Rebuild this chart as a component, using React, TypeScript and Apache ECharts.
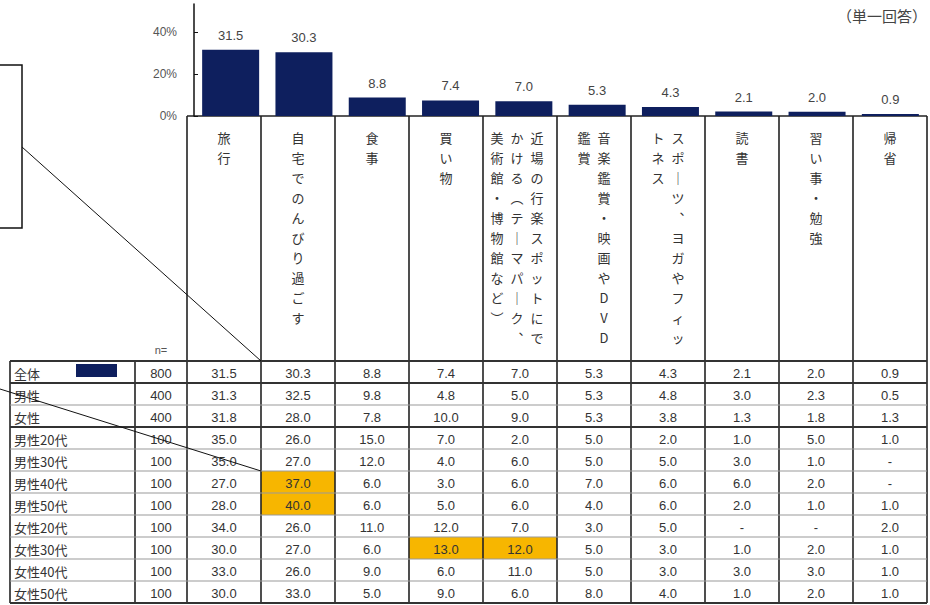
import React, { useEffect, useRef } from "react";
import * as echarts from "echarts";

const categories = [
  "旅行",
  "自宅でのんびり過ごす",
  "食事",
  "買い物",
  "近場の行楽スポットにでかける（テーマパーク、美術館・博物館など）",
  "音楽鑑賞・映画やDVD鑑賞",
  "スポーツ、ヨガやフィットネス",
  "読書",
  "習い事・勉強",
  "帰省",
];
const overall = [31.5, 30.3, 8.8, 7.4, 7.0, 5.3, 4.3, 2.1, 2.0, 0.9];
const yTicks = [0, 20, 40];
const rowLabels = [
  "全体", "男性", "女性", "男性20代", "男性30代", "男性40代",
  "男性50代", "女性20代", "女性30代", "女性40代", "女性50代",
];
const nValues = [800, 400, 400, 100, 100, 100, 100, 100, 100, 100, 100];
const rowAll = [31.5, 30.3, 8.8, 7.4, 7.0, 5.3, 4.3, 2.1, 2.0, 0.9];
const rowMale = [31.3, 32.5, 9.8, 4.8, 5.0, 5.3, 4.8, 3.0, 2.3, 0.5];
const rowFemale = [31.8, 28.0, 7.8, 10.0, 9.0, 5.3, 3.8, 1.3, 1.8, 1.3];
const rowM20 = [35.0, 26.0, 15.0, 7.0, 2.0, 5.0, 2.0, 1.0, 5.0, 1.0];
const rowM30 = [35.0, 27.0, 12.0, 4.0, 6.0, 5.0, 5.0, 3.0, 1.0, null];
const rowM40 = [27.0, 37.0, 6.0, 3.0, 6.0, 7.0, 6.0, 6.0, 2.0, null];
const rowM50 = [28.0, 40.0, 6.0, 5.0, 6.0, 4.0, 6.0, 2.0, 1.0, 1.0];
const rowF20 = [34.0, 26.0, 11.0, 12.0, 7.0, 3.0, 5.0, null, null, 2.0];
const rowF30 = [30.0, 27.0, 6.0, 13.0, 12.0, 5.0, 3.0, 1.0, 2.0, 1.0];
const rowF40 = [33.0, 26.0, 9.0, 6.0, 11.0, 5.0, 3.0, 3.0, 3.0, 1.0];
const rowF50 = [30.0, 33.0, 5.0, 9.0, 6.0, 8.0, 4.0, 1.0, 2.0, 1.0];
const tableRows: (number | null)[][] = [
  rowAll, rowMale, rowFemale, rowM20, rowM30, rowM40, rowM50, rowF20, rowF30, rowF40, rowF50,
];
// [row, column] of highlighted cells
const highlights = [[5, 1], [6, 1], [8, 3], [8, 4]];
const unitLabel = "（単一回答）";
const nLabel = "n=";

const W = 930;
const H = 605;
const NUM_FONT = "'Liberation Sans', 'Noto Sans CJK JP', sans-serif";
const JP_FONT = "'Noto Sans CJK JP', 'Liberation Sans', sans-serif";
const NAVY = "#0E1F5E";
const HILITE = "#F7B600";
const TEXT = "#333333";

const colStart = 187;
const colW = 74;
const tableLeft = 10;
const nLeft = 135;
const headTop = 116;
const bodyTop = 361;
const rowH = 22;
const charStep = 20;
const charsPerLine = 11;

const vMap: Record<string, string> = { "ー": "｜", "（": "︵", "）": "︶", "、": "︑" };

function splitVertical(s: string): string[] {
  const chars = Array.from(s);
  const lines: string[] = [];
  for (let i = 0; i < chars.length; i += charsPerLine) {
    lines.push(chars.slice(i, i + charsPerLine).map((c) => vMap[c] || c).join("\n"));
  }
  return lines;
}

function buildGraphic() {
  const g: any[] = [];
  const tableRight = colStart + colW * categories.length;
  const bottom = bodyTop + rowH * rowLabels.length;

  highlights.forEach(([r, c]) => {
    g.push({
      type: "rect",
      shape: { x: colStart + c * colW, y: bodyTop + r * rowH, width: colW, height: rowH },
      style: { fill: HILITE },
    });
  });
  g.push({
    type: "rect",
    shape: { x: 76, y: bodyTop + 3, width: 41, height: 13 },
    style: { fill: NAVY },
  });

  for (let i = 0; i <= categories.length; i++) {
    const x = colStart + i * colW;
    g.push({
      type: "line",
      shape: { x1: x, y1: headTop, x2: x, y2: bottom },
      style: { stroke: "#222", lineWidth: 1.6 },
    });
  }
  [tableLeft, nLeft].forEach((x) => {
    g.push({
      type: "line",
      shape: { x1: x, y1: bodyTop, x2: x, y2: bottom },
      style: { stroke: "#222", lineWidth: 1.6 },
    });
  });
  g.push({
    type: "line",
    shape: { x1: colStart, y1: headTop, x2: tableRight, y2: headTop },
    style: { stroke: "#222", lineWidth: 1.6 },
  });
  for (let r = 0; r <= rowLabels.length; r++) {
    const y = bodyTop + r * rowH;
    const thick = r === 0 || r === 1 || r === 3 || r === rowLabels.length;
    g.push({
      type: "line",
      shape: { x1: tableLeft, y1: y, x2: tableRight, y2: y },
      style: { stroke: thick ? "#333" : "#999", lineWidth: thick ? 2 : 1 },
    });
  }

  categories.forEach((cat, i) => {
    const lines = splitVertical(cat);
    const cx = colStart + (i + 0.5) * colW - (lines.length > 2 ? 3 : 0);
    const k = lines.length;
    lines.forEach((ln, j) => {
      const x = cx + ((k - 1) / 2 - j) * charStep;
      g.push({
        type: "text",
        style: {
          text: ln,
          x,
          y: 127,
          align: "center",
          verticalAlign: "top",
          fontSize: 13,
          lineHeight: charStep,
          fontFamily: JP_FONT,
          fill: TEXT,
        },
      });
    });
  });

  g.push({
    type: "text",
    style: {
      text: nLabel, x: 161, y: 350, align: "center", verticalAlign: "middle",
      fontSize: 11, fontFamily: NUM_FONT, fill: "#555",
    },
  });

  rowLabels.forEach((lab, r) => {
    const cy = bodyTop + r * rowH + rowH / 2 + 1;
    g.push({
      type: "text",
      style: {
        text: lab, x: 14, y: cy, align: "left", verticalAlign: "middle",
        fontSize: 13, fontFamily: JP_FONT, fill: TEXT,
      },
    });
    g.push({
      type: "text",
      style: {
        text: String(nValues[r]), x: (nLeft + colStart) / 2, y: cy, align: "center",
        verticalAlign: "middle", fontSize: 13, fontFamily: NUM_FONT, fill: TEXT,
      },
    });
    tableRows[r].forEach((v, c) => {
      g.push({
        type: "text",
        style: {
          text: v == null ? "-" : v.toFixed(1),
          x: colStart + (c + 0.5) * colW,
          y: cy,
          align: "center",
          verticalAlign: "middle",
          fontSize: 13,
          fontFamily: NUM_FONT,
          fill: TEXT,
        },
      });
    });
  });

  g.push({
    type: "rect",
    shape: { x: -3, y: 65, width: 25, height: 163 },
    style: { fill: "rgba(0,0,0,0)", stroke: "#111", lineWidth: 1.5 },
  });
  g.push({
    type: "line",
    shape: { x1: 22, y1: 147, x2: colStart + colW, y2: bodyTop },
    style: { stroke: "#111", lineWidth: 1 },
  });
  g.push({
    type: "line",
    shape: { x1: 0, y1: 389, x2: colStart + colW, y2: bodyTop + 5 * rowH },
    style: { stroke: "#111", lineWidth: 1 },
  });

  g.push({
    type: "text",
    style: {
      text: unitLabel, x: 927, y: 15, align: "right", verticalAlign: "middle",
      fontSize: 15, fontFamily: JP_FONT, fill: "#444",
    },
  });
  return g;
}

export default function App() {
  const ref = useRef<HTMLDivElement>(null);
  useEffect(() => {
    if (!ref.current) return;
    const chart = echarts.init(ref.current, undefined, { renderer: "svg" });
    chart.setOption({
      animation: false,
      backgroundColor: "#ffffff",
      grid: { left: 194, right: W - (colStart + colW * categories.length), top: 4, bottom: H - headTop },
      xAxis: {
        type: "category",
        data: categories,
        axisLine: { show: false },
        axisTick: { show: false },
        axisLabel: { show: false },
      },
      yAxis: {
        type: "value",
        min: 0,
        max: 53.3,
        axisLine: { show: true, lineStyle: { color: "#111", width: 1.5 } },
        axisTick: { show: true, inside: true, length: 4, customValues: yTicks, lineStyle: { color: "#111" } },
        axisLabel: {
          customValues: yTicks,
          formatter: (v: number) => `${v}%`,
          fontSize: 12,
          color: "#555",
          margin: 17,
          fontFamily: NUM_FONT,
        },
        splitLine: { show: false },
      },
      series: [
        {
          type: "bar",
          data: overall,
          barWidth: 57,
          itemStyle: { color: NAVY },
          label: {
            show: true,
            position: "top",
            distance: 8,
            fontSize: 13,
            color: "#444",
            fontFamily: NUM_FONT,
            formatter: (p: any) => Number(p.value).toFixed(1),
          },
        },
      ],
      graphic: buildGraphic(),
    });
    return () => chart.dispose();
  }, []);
  return (
    <div
      ref={ref}
      style={{ position: "fixed", left: 0, top: 0, width: W, height: H, background: "#fff" }}
    />
  );
}
